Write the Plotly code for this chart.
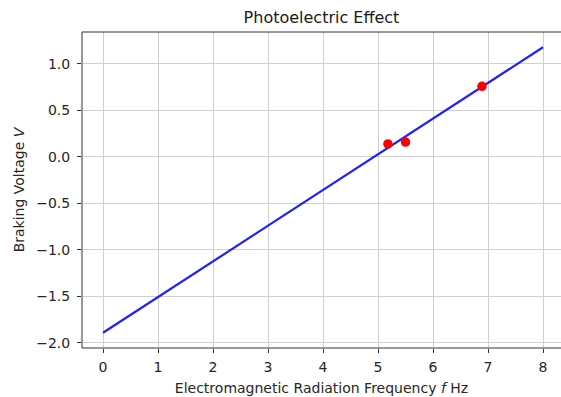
import plotly.graph_objects as go

# Data
freq_points = [5.18, 5.50, 6.89]
voltage_points = [0.14, 0.16, 0.76]
fit_freq = [0.0, 8.0]
fit_voltage = [-1.89, 1.18]
x_ticks = [0, 1, 2, 3, 4, 5, 6, 7, 8]
y_ticks = [-2.0, -1.5, -1.0, -0.5, 0.0, 0.5, 1.0]
y_tick_labels = ["\u22122.0", "\u22121.5", "\u22121.0", "\u22120.5", "0.0", "0.5", "1.0"]

font = "DejaVu Sans"

fig = go.Figure()
fig.add_trace(go.Scatter(x=fit_freq, y=fit_voltage, mode="lines",
                         line=dict(color="#1f1fff", width=2.2), showlegend=False))
fig.add_trace(go.Scatter(x=freq_points, y=voltage_points, mode="markers",
                         marker=dict(color="#ff0000", size=9.5), showlegend=False))

fig.update_layout(
    width=561, height=397,
    margin=dict(l=82, r=0, t=32, b=49),
    paper_bgcolor="white", plot_bgcolor="white",
    font=dict(family=font, size=14, color="#262626"),
    title=dict(text="Photoelectric Effect", x=0.5, xanchor="center",
               xref="paper", y=1 - 17 / 397, yanchor="middle",
               font=dict(size=16, color="#1a1a1a")),
    shapes=[
        dict(type="line", xref="paper", yref="paper", x0=0, x1=0, y0=0, y1=1,
             line=dict(color="#333333", width=1)),
        dict(type="line", xref="paper", yref="paper", x0=0, x1=1.01, y0=1, y1=1,
             line=dict(color="#333333", width=1)),
        dict(type="line", xref="paper", yref="paper", x0=0, x1=1.01, y0=0, y1=0,
             line=dict(color="#333333", width=1)),
    ],
)
fig.update_xaxes(
    range=[-0.382, 8.327], tickvals=x_ticks, ticktext=[str(t) for t in x_ticks],
    showgrid=True, gridcolor="#cfcfcf", gridwidth=1,
    zeroline=False, showline=False,
    ticks="outside", ticklen=4, tickcolor="#333333", tickwidth=1,
    ticklabelstandoff=2,
    title=dict(text="Electromagnetic Radiation Frequency <i>f</i> Hz",
               font=dict(size=14), standoff=9),
)
fig.update_yaxes(
    range=[-2.054, 1.344], tickvals=y_ticks, ticktext=y_tick_labels,
    showgrid=True, gridcolor="#cfcfcf", gridwidth=1,
    zeroline=False, showline=False,
    ticks="outside", ticklen=4, tickcolor="#333333", tickwidth=1,
    ticklabelstandoff=4,
    title=dict(text="Braking Voltage <i>V</i>", font=dict(size=14), standoff=8),
)

fig.write_html("out.html")
